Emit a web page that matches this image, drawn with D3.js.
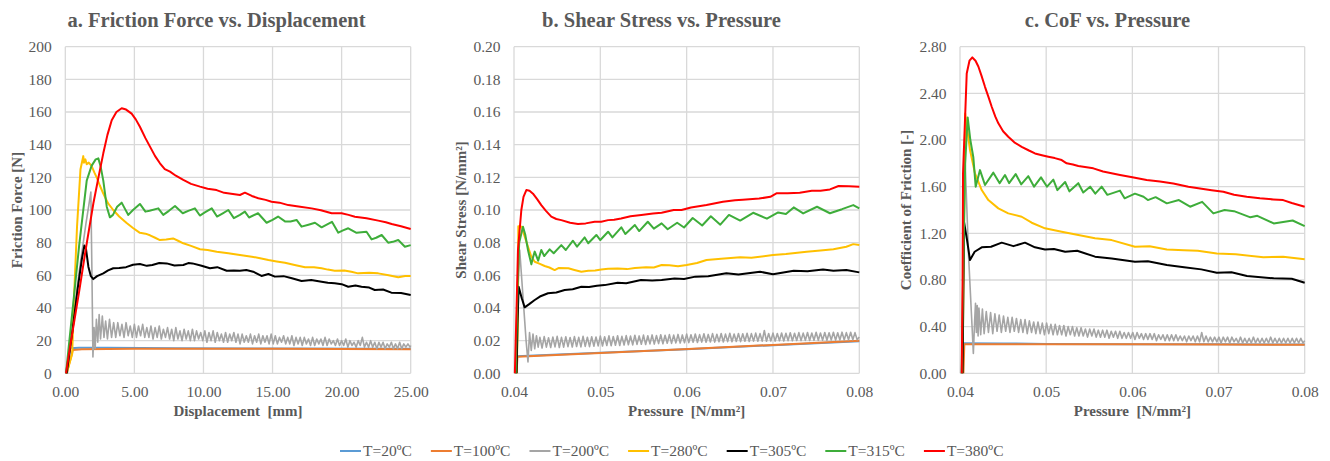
<!DOCTYPE html>
<html><head><meta charset="utf-8">
<script src="https://cdn.jsdelivr.net/npm/d3@7"></script>
<style>body{margin:0;background:#fff}svg{display:block}</style>
</head><body><svg id="c" width="1330" height="461"></svg>
<script>
// ---------------- DATA ----------------
const seriesNames = ["T=20ºC","T=100ºC","T=200ºC","T=280ºC","T=305ºC","T=315ºC","T=380ºC"];
const chartTitles = ["a. Friction Force vs. Displacement","b. Shear Stress vs. Pressure","c. CoF vs. Pressure"];
const xAxisTitles = ["Displacement  [mm]","Pressure  [N/mm²]","Pressure  [N/mm²]"];
const yAxisTitles = ["Friction Force [N]","Shear Stress [N/mm²]","Coefficient of Friction [-]"];
const xTicksA = [0,5,10,15,20,25];
const yTicksA = [0,20,40,60,80,100,120,140,160,180,200];
const xTicksP = [0.04,0.05,0.06,0.07,0.08];
const yTicksB = [0,0.02,0.04,0.06,0.08,0.10,0.12,0.14,0.16,0.18,0.20];
const yTicksC = [0,0.4,0.8,1.2,1.6,2.0,2.4,2.8];

// Chart a: [displacement mm, friction force N]
const blueA = [[0.05,0],[0.35,15.3],[1,15.6],[3,15.6],[8,15.4],[15,15.2],[25,15.0]];
const orangeA = [[0.1,0],[0.55,14.3],[1.2,14.8],[5,15.1],[15,15],[25,14.8]];
const greyA = [[0.15,0],[0.6,35],[1.0,62],[1.5,92],[1.85,111],[1.93,60],[2.0,10],[2.08,28],[2.16,15],[2.25,33],[2.35,19],[2.45,36],[2.55,21],[2.68,35],[2.8,22],[2.92,32],[3.05,21],[3.2,33],[3.35,22],[3.5,31],[3.65,22],[3.8,31],[3.95,23],[4.1,30],[4.25,22],[4.4,31],[4.55,23],[4.7,29],[4.85,22],[5.0,30],[5.15,22],[5.3,29],[5.45,23],[5.6,30],[5.75,22],[5.9,28],[6.05,22],[6.2,29],[6.35,21],[6.5,28],[6.65,22],[6.8,29],[6.95,21],[7.1,27],[7.25,22],[7.4,28],[7.55,21],[7.7,27],[7.85,20],[8.0,28],[8.15,21],[8.3,26],[8.45,20],[8.6,27],[8.75,21],[8.9,26],[9.05,20],[9.2,27],[9.35,20],[9.5,26],[9.65,21],[9.8,25],[9.95,20],[10.1,26],[10.25,19],[10.4,25],[10.55,20],[10.7,26],[10.85,19],[11.0,25],[11.15,20],[11.3,24],[11.45,19],[11.6,25],[11.75,19],[11.9,24],[12.05,20],[12.2,25],[12.35,19],[12.5,24],[12.65,18],[12.8,24],[12.95,19],[13.1,23],[13.25,19],[13.4,24],[13.55,18],[13.7,23],[13.85,19],[14.0,24],[14.15,18],[14.3,23],[14.45,19],[14.6,23],[14.75,18],[14.9,24],[15.05,18],[15.2,23],[15.35,18],[15.5,22],[15.65,19],[15.8,23],[15.95,18],[16.1,22],[16.25,18],[16.4,23],[16.55,17],[16.7,22],[16.85,18],[17.0,22],[17.15,17],[17.3,22],[17.45,18],[17.6,21],[17.75,17],[17.9,22],[18.05,17],[18.2,21],[18.35,18],[18.5,21],[18.65,17],[18.8,22],[18.95,17],[19.1,21],[19.25,18],[19.4,20],[19.55,17],[19.7,21],[19.85,17],[20.0,20],[20.15,17],[20.3,21],[20.45,16],[20.6,20],[20.75,17],[20.9,19],[21.05,16],[21.2,20],[21.35,17],[21.5,22],[21.65,16],[21.8,19],[21.95,16],[22.1,20],[22.25,16],[22.4,19],[22.55,15],[22.7,19],[22.85,16],[23.0,19],[23.15,15],[23.3,18],[23.45,16],[23.6,19],[23.75,15],[23.9,18],[24.05,15],[24.2,19],[24.35,15],[24.5,18],[24.65,16],[24.8,18],[24.95,16],[25,17]];
const yellowA = [[0.1,0],[0.3,6],[0.5,12],[0.6,40],[0.85,90],[1.1,125],[1.3,133],[1.35,129],[1.45,131],[1.55,128],[1.7,129],[1.9,127],[2.1,123],[2.27,120],[2.5,115],[2.75,110],[3.1,104],[3.47,100],[3.9,96],[4.44,92],[4.9,89],[5.4,86],[5.8,85.5],[6.13,84.5],[6.5,83],[6.85,81.6],[7.3,82],[7.8,82.6],[8.2,81],[8.54,79.6],[9.1,78],[9.75,76],[10.3,75.5],[10.96,74.5],[11.8,73.5],[12.64,72.4],[13.5,71.4],[14.1,70.5],[14.7,69.4],[15.3,68.5],[15.9,67.7],[16.6,66.3],[17.35,64.9],[18,65],[18.55,64.3],[19,63.5],[19.5,62.8],[20.2,63],[20.7,62.2],[21.2,61.2],[22,61.5],[22.65,61.2],[23.4,60],[24.1,58.8],[24.6,59.6],[25,59.6]];
const blackA = [[0.1,0],[0.5,25],[0.9,52],[1.2,70],[1.38,78.2],[1.5,76],[1.67,65.3],[1.85,59.5],[2.03,57.7],[2.3,59.5],[2.75,61.2],[3.1,63],[3.47,64.3],[3.9,64.5],[4.4,65],[4.9,66.5],[5.4,66.9],[5.9,65.8],[6.3,66.3],[6.8,67.5],[7.34,67.3],[7.9,66],[8.54,66.3],[8.9,67.5],[9.2,67.3],[9.8,66],[10.47,64.3],[11,65],[11.68,62.8],[12.2,63],[12.64,62.8],[13.1,63.2],[13.6,62.2],[14.2,59.6],[14.7,60.8],[15.17,59.2],[15.8,59.5],[16.4,58.2],[17.1,56.5],[17.8,57.2],[18.55,56.1],[19,55.5],[19.5,55.1],[20,54.6],[20.48,53],[21,53.8],[21.44,53],[22,52.5],[22.4,51],[23,51.3],[23.6,49.4],[24.3,49.2],[25,48]];
const greenA = [[0.05,0],[0.6,45],[1.0,78],[1.55,118],[1.9,127],[2.2,131],[2.39,131.6],[2.55,127],[2.75,118],[3.0,102],[3.23,95.5],[3.45,97],[3.75,102],[4.08,104.5],[4.3,101],[4.56,97],[4.9,100],[5.4,103.7],[5.8,99],[6.1,99.5],[6.73,101],[7.09,97],[7.5,99.5],[7.94,102.4],[8.5,98],[8.9,99.5],[9.38,101],[9.74,96.6],[10.1,98.5],[10.6,101],[10.98,96],[11.4,98],[11.8,100],[12.2,95],[12.64,97],[13.0,99],[13.3,95.4],[13.95,98],[14.57,92.2],[15.0,94],[15.4,96],[15.9,93],[16.3,93],[16.74,93.9],[17.1,89.8],[17.6,91],[18.07,92.2],[18.55,89.4],[19.3,92.8],[19.76,86.1],[20.1,87.5],[20.48,88.8],[21.08,86],[21.8,86.7],[22.17,82],[22.5,83],[22.9,84.7],[23.37,80],[23.7,80.5],[24.1,81.6],[24.58,77.5],[25,78.5]];
const redA = [[0.05,0],[0.34,16],[1.0,50],[1.5,77],[2.03,104],[2.4,120],[2.75,134.7],[3.05,146],[3.36,155],[3.7,160],[4.08,162.3],[4.4,161.5],[4.8,159],[5.1,155.5],[5.4,151],[5.8,144],[6.13,138.8],[6.5,133],[6.85,128.6],[7.2,125],[7.58,123.5],[8.0,121],[8.54,118.4],[9.1,116],[9.75,114.3],[10.3,113],[10.95,112.2],[11.5,110.5],[12.0,110],[12.64,109.2],[13.0,110.6],[13.5,108.6],[13.97,107.2],[14.5,106.2],[14.93,105.1],[15.5,104.5],[16.14,103],[17,102],[17.83,101],[18.5,99.8],[19.28,98],[20.0,98],[20.5,97],[20.96,95.9],[21.8,95],[22.65,93.5],[23.2,92.5],[23.62,91.4],[24.3,90],[25,88.4]];

// Chart b: [pressure N/mm², shear stress N/mm²]
const blueB = [[0.0402,0],[0.0403,0.0104],[0.05,0.0126],[0.06,0.0148],[0.07,0.0172],[0.08,0.0196]];
const orangeB = [[0.0403,0],[0.0404,0.0102],[0.05,0.0124],[0.0602,0.0149],[0.07,0.0174],[0.08,0.0199]];
const greyB = [[0.0402,0],[0.0404,0.045],[0.04066,0.0755],[0.041,0.05],[0.0414,0.02],[0.04162,0.007],[0.0418,0.025],[0.042,0.014],[0.0422,0.024],[0.0424,0.015],[0.0426,0.023],[0.0428,0.016],[0.043,0.022],[0.04325,0.0155],[0.0435,0.0225],[0.04375,0.016],[0.044,0.0218],[0.04425,0.0158],[0.0445,0.0222],[0.04475,0.0162],[0.045,0.0226],[0.04525,0.0158],[0.0455,0.022],[0.04575,0.016],[0.046,0.0224],[0.04625,0.0163],[0.0465,0.0219],[0.04675,0.0161],[0.047,0.0225],[0.04725,0.0164],[0.0475,0.022],[0.04775,0.0162],[0.048,0.0226],[0.04825,0.0165],[0.0485,0.0221],[0.04875,0.0163],[0.049,0.0224],[0.04925,0.0166],[0.0495,0.0222],[0.04975,0.0168],[0.05,0.0228],[0.05025,0.0167],[0.0505,0.0224],[0.05075,0.017],[0.051,0.0229],[0.05125,0.0169],[0.0515,0.0225],[0.05175,0.0172],[0.052,0.023],[0.05225,0.017],[0.0525,0.0226],[0.05275,0.0173],[0.053,0.0231],[0.05325,0.0175],[0.0535,0.0228],[0.05375,0.0174],[0.054,0.0233],[0.05425,0.0177],[0.0545,0.0229],[0.05475,0.0178],[0.055,0.0234],[0.05525,0.0176],[0.0555,0.023],[0.05575,0.018],[0.056,0.0235],[0.05625,0.0179],[0.0565,0.0231],[0.05675,0.0182],[0.057,0.0236],[0.05725,0.0181],[0.0575,0.0233],[0.05775,0.0184],[0.058,0.0237],[0.05825,0.0183],[0.0585,0.0234],[0.05875,0.0186],[0.059,0.0238],[0.05925,0.0185],[0.0595,0.0235],[0.05975,0.0187],[0.06,0.024],[0.06025,0.0188],[0.0605,0.0236],[0.06075,0.019],[0.061,0.0241],[0.06125,0.0189],[0.0615,0.0237],[0.06175,0.0191],[0.062,0.0242],[0.06225,0.019],[0.0625,0.0238],[0.06275,0.0192],[0.063,0.0243],[0.06325,0.0191],[0.0635,0.0239],[0.06375,0.0193],[0.064,0.0244],[0.06425,0.0192],[0.0645,0.024],[0.06475,0.0194],[0.065,0.0245],[0.06525,0.0193],[0.0655,0.0241],[0.06575,0.0195],[0.066,0.0244],[0.06625,0.0194],[0.0665,0.0242],[0.06675,0.0196],[0.067,0.0245],[0.06725,0.0195],[0.0675,0.0243],[0.06775,0.0197],[0.068,0.0246],[0.06825,0.0196],[0.0685,0.0243],[0.06875,0.0197],[0.069,0.0262],[0.06925,0.0196],[0.0695,0.0244],[0.06975,0.0198],[0.07,0.0246],[0.07025,0.0197],[0.0705,0.0244],[0.07075,0.0199],[0.071,0.0247],[0.07125,0.0198],[0.0715,0.0245],[0.07175,0.02],[0.072,0.0248],[0.07225,0.0199],[0.0725,0.0245],[0.07275,0.0201],[0.073,0.0249],[0.07325,0.02],[0.0735,0.0246],[0.07375,0.0202],[0.074,0.025],[0.07425,0.0201],[0.0745,0.0247],[0.07475,0.0202],[0.075,0.0251],[0.07525,0.0202],[0.0755,0.0247],[0.07575,0.0203],[0.076,0.025],[0.07625,0.0202],[0.0765,0.0248],[0.07675,0.0204],[0.077,0.0251],[0.07725,0.0203],[0.0775,0.0248],[0.07775,0.0204],[0.078,0.0252],[0.07825,0.0204],[0.0785,0.0249],[0.07875,0.0205],[0.079,0.0251],[0.07925,0.0205],[0.0795,0.0249],[0.07975,0.0206],[0.08,0.0222]];
const yellowB = [[0.0403,0],[0.04045,0.03],[0.0405,0.09],[0.0409,0.0898],[0.04116,0.085],[0.04162,0.0775],[0.042,0.0715],[0.0424,0.0683],[0.043,0.067],[0.04355,0.0657],[0.0441,0.0648],[0.04471,0.0632],[0.0452,0.0645],[0.0463,0.0643],[0.047,0.0633],[0.0478,0.0622],[0.0486,0.0628],[0.0494,0.063],[0.0501,0.0636],[0.0509,0.064],[0.052,0.0642],[0.0531,0.0638],[0.054,0.0645],[0.0553,0.065],[0.0562,0.0648],[0.0571,0.0663],[0.058,0.0662],[0.059,0.0655],[0.06,0.0663],[0.0612,0.0675],[0.0623,0.0694],[0.064,0.0702],[0.0662,0.071],[0.0675,0.0708],[0.07,0.0724],[0.0715,0.073],[0.0739,0.0745],[0.0755,0.0752],[0.077,0.0759],[0.0785,0.0775],[0.0793,0.0791],[0.08,0.0785]];
const blackB = [[0.0403,0],[0.0404,0.03],[0.04054,0.053],[0.0409,0.046],[0.04124,0.0404],[0.0418,0.0425],[0.0424,0.0449],[0.043,0.047],[0.04394,0.049],[0.0449,0.0495],[0.04587,0.051],[0.0468,0.0515],[0.0478,0.053],[0.0487,0.0528],[0.0496,0.0536],[0.0505,0.054],[0.052,0.0555],[0.053,0.0552],[0.0547,0.0571],[0.056,0.0568],[0.0571,0.0571],[0.0586,0.0581],[0.0597,0.0578],[0.061,0.0592],[0.0625,0.0595],[0.0646,0.0612],[0.066,0.0605],[0.0685,0.0622],[0.07,0.0606],[0.0724,0.0628],[0.074,0.0625],[0.0758,0.0635],[0.077,0.0628],[0.0785,0.0632],[0.08,0.0618]];
const greenB = [[0.0402,0],[0.0404,0.05],[0.0406,0.08],[0.04104,0.0898],[0.0413,0.085],[0.04162,0.0755],[0.04201,0.0667],[0.0422,0.071],[0.0424,0.0745],[0.0428,0.069],[0.04316,0.0755],[0.0435,0.0718],[0.04413,0.0759],[0.0446,0.0735],[0.04548,0.0785],[0.046,0.0755],[0.04683,0.0812],[0.0473,0.0776],[0.04819,0.0832],[0.0486,0.0796],[0.04954,0.0847],[0.05,0.0816],[0.0509,0.0867],[0.0514,0.0832],[0.05243,0.0894],[0.0529,0.0853],[0.054,0.0908],[0.0545,0.0871],[0.0555,0.0928],[0.0562,0.0886],[0.0571,0.0918],[0.0578,0.0882],[0.0589,0.0922],[0.0597,0.0893],[0.0607,0.0951],[0.0618,0.0905],[0.0628,0.0962],[0.0639,0.091],[0.0649,0.097],[0.0662,0.0935],[0.0677,0.0983],[0.0693,0.0947],[0.0706,0.0985],[0.0715,0.0975],[0.0724,0.1016],[0.0735,0.0979],[0.0751,0.102],[0.0766,0.098],[0.078,0.1005],[0.0793,0.103],[0.08,0.101]];
const redB = [[0.0401,0],[0.0403,0.04],[0.04046,0.0755],[0.04085,0.1],[0.0411,0.108],[0.04143,0.1122],[0.0418,0.1118],[0.0422,0.11],[0.0427,0.1065],[0.04316,0.103],[0.0437,0.0995],[0.04432,0.0959],[0.0449,0.0945],[0.04548,0.0938],[0.0465,0.0922],[0.04741,0.0914],[0.0483,0.0918],[0.04934,0.0928],[0.0501,0.0928],[0.0509,0.0938],[0.0516,0.094],[0.0524,0.0948],[0.0535,0.0962],[0.05475,0.0969],[0.0561,0.0978],[0.0571,0.0983],[0.0585,0.1],[0.0594,0.1],[0.0605,0.1015],[0.0623,0.103],[0.0642,0.105],[0.0656,0.106],[0.0665,0.1063],[0.0684,0.107],[0.0697,0.1081],[0.0704,0.1102],[0.0717,0.1102],[0.0731,0.1106],[0.0745,0.1118],[0.0755,0.1118],[0.0766,0.1126],[0.0776,0.1147],[0.0788,0.1145],[0.08,0.1143]];

// Chart c: [pressure N/mm², coefficient of friction]
const blueC = [[0.0402,0],[0.0403,0.258],[0.045,0.256],[0.05,0.252],[0.06,0.25],[0.07,0.248],[0.08,0.246]];
const orangeC = [[0.0404,0],[0.0405,0.248],[0.05,0.25],[0.06,0.249],[0.07,0.247],[0.08,0.245]];
const greyC = [[0.0402,0],[0.0404,0.9],[0.04058,1.843],[0.041,1.0],[0.0414,0.4],[0.04155,0.171],[0.0417,0.45],[0.0418,0.6],[0.0419,0.35],[0.042,0.58],[0.0421,0.32],[0.0422,0.56],[0.0424,0.33],[0.0426,0.55],[0.0428,0.34],[0.04305,0.53],[0.0433,0.35],[0.04355,0.52],[0.0438,0.34],[0.04405,0.51],[0.0443,0.36],[0.04455,0.5],[0.0448,0.35],[0.04505,0.49],[0.0453,0.36],[0.04555,0.48],[0.0458,0.35],[0.04605,0.48],[0.0463,0.36],[0.04655,0.47],[0.0468,0.35],[0.04705,0.46],[0.0473,0.35],[0.04755,0.46],[0.0478,0.34],[0.04805,0.45],[0.0483,0.35],[0.04855,0.44],[0.0488,0.34],[0.04905,0.44],[0.0493,0.34],[0.04955,0.43],[0.0498,0.33],[0.05005,0.43],[0.0503,0.34],[0.05055,0.42],[0.0508,0.33],[0.05105,0.42],[0.0513,0.33],[0.05155,0.41],[0.0518,0.33],[0.05205,0.41],[0.0523,0.32],[0.05255,0.4],[0.0528,0.33],[0.05305,0.4],[0.0533,0.32],[0.05355,0.39],[0.0538,0.32],[0.05405,0.39],[0.0543,0.32],[0.05455,0.38],[0.0548,0.31],[0.05505,0.38],[0.0553,0.32],[0.05555,0.38],[0.0558,0.31],[0.05605,0.37],[0.0563,0.31],[0.05655,0.37],[0.0568,0.31],[0.05705,0.37],[0.0573,0.3],[0.05755,0.36],[0.0578,0.31],[0.05805,0.36],[0.0583,0.3],[0.05855,0.36],[0.0588,0.3],[0.05905,0.35],[0.0593,0.3],[0.05955,0.35],[0.0598,0.3],[0.06005,0.35],[0.0603,0.29],[0.06055,0.35],[0.0608,0.3],[0.06105,0.34],[0.0613,0.29],[0.06155,0.34],[0.0618,0.29],[0.06205,0.34],[0.0623,0.29],[0.06255,0.34],[0.0628,0.28],[0.06305,0.33],[0.0633,0.29],[0.06355,0.33],[0.0638,0.28],[0.06405,0.33],[0.0643,0.28],[0.06455,0.33],[0.0648,0.28],[0.06505,0.33],[0.0653,0.28],[0.06555,0.32],[0.0658,0.28],[0.06605,0.32],[0.0663,0.27],[0.06655,0.32],[0.0668,0.28],[0.06705,0.32],[0.0673,0.27],[0.06755,0.32],[0.0678,0.27],[0.06805,0.35],[0.0683,0.27],[0.06855,0.32],[0.0688,0.27],[0.06905,0.31],[0.0693,0.27],[0.06955,0.31],[0.0698,0.27],[0.07005,0.31],[0.0703,0.26],[0.07055,0.31],[0.0708,0.27],[0.07105,0.31],[0.0713,0.26],[0.07155,0.31],[0.0718,0.27],[0.07205,0.3],[0.0723,0.26],[0.07255,0.31],[0.0728,0.26],[0.07305,0.3],[0.0733,0.26],[0.07355,0.3],[0.0738,0.26],[0.07405,0.31],[0.0743,0.26],[0.07455,0.3],[0.0748,0.26],[0.07505,0.3],[0.0753,0.26],[0.07555,0.3],[0.0758,0.26],[0.07605,0.31],[0.0763,0.26],[0.07655,0.3],[0.0768,0.26],[0.07705,0.3],[0.0773,0.26],[0.07755,0.3],[0.0778,0.26],[0.07805,0.3],[0.0783,0.26],[0.07855,0.3],[0.0788,0.26],[0.07905,0.3],[0.0793,0.26],[0.07955,0.3],[0.0798,0.26],[0.08,0.28]];
const yellowC = [[0.0403,0],[0.0405,1.5],[0.0406,2.228],[0.04075,2.143],[0.04116,1.914],[0.04174,1.714],[0.04252,1.571],[0.04329,1.485],[0.04445,1.414],[0.0456,1.371],[0.04716,1.342],[0.04832,1.291],[0.04986,1.243],[0.0518,1.214],[0.05373,1.185],[0.05567,1.157],[0.0576,1.142],[0.0603,1.085],[0.062,1.09],[0.064,1.062],[0.066,1.055],[0.0676,1.05],[0.0698,1.028],[0.072,1.02],[0.0752,0.994],[0.0775,1.0],[0.08,0.977]];
const blackC = [[0.0403,0],[0.0404,0.8],[0.04046,1.3],[0.0408,1.15],[0.04116,0.971],[0.0417,1.042],[0.04252,1.08],[0.0436,1.085],[0.04484,1.12],[0.0462,1.09],[0.04754,1.12],[0.0487,1.08],[0.04986,1.062],[0.0509,1.065],[0.0522,1.042],[0.0536,1.05],[0.05567,1.0],[0.0576,0.985],[0.0603,0.957],[0.0618,0.96],[0.064,0.928],[0.066,0.91],[0.068,0.891],[0.0698,0.862],[0.0715,0.866],[0.0733,0.834],[0.0764,0.814],[0.0785,0.81],[0.08,0.777]];
const greenC = [[0.0402,0],[0.0404,1.0],[0.0406,1.8],[0.04089,2.194],[0.0412,2.0],[0.04155,1.85],[0.04182,1.6],[0.042,1.65],[0.04232,1.742],[0.0429,1.614],[0.04387,1.72],[0.0446,1.63],[0.04522,1.7],[0.0457,1.63],[0.04646,1.708],[0.0471,1.62],[0.04793,1.69],[0.0486,1.6],[0.0494,1.68],[0.0501,1.6],[0.05083,1.66],[0.0513,1.57],[0.0522,1.64],[0.0527,1.56],[0.05373,1.63],[0.0543,1.55],[0.0551,1.6],[0.0557,1.54],[0.05644,1.6],[0.0571,1.53],[0.05857,1.566],[0.0591,1.5],[0.0603,1.54],[0.0613,1.514],[0.0618,1.485],[0.0627,1.51],[0.064,1.457],[0.0654,1.485],[0.0667,1.428],[0.0681,1.47],[0.0694,1.371],[0.0707,1.4],[0.0718,1.39],[0.0737,1.337],[0.0745,1.35],[0.0764,1.285],[0.0786,1.31],[0.08,1.262]];
const redC = [[0.0402,0],[0.0403,0.8],[0.04035,1.71],[0.04078,2.57],[0.0411,2.68],[0.04143,2.708],[0.0418,2.68],[0.04213,2.63],[0.0425,2.55],[0.0429,2.456],[0.0433,2.37],[0.04368,2.285],[0.0441,2.2],[0.04445,2.143],[0.045,2.075],[0.0456,2.028],[0.0463,1.98],[0.04716,1.942],[0.048,1.91],[0.0487,1.885],[0.0495,1.87],[0.05025,1.857],[0.051,1.845],[0.0518,1.828],[0.05238,1.8],[0.0531,1.79],[0.05373,1.777],[0.05547,1.757],[0.0566,1.73],[0.05857,1.7],[0.06,1.68],[0.06166,1.657],[0.0632,1.645],[0.06475,1.628],[0.0665,1.6],[0.06785,1.585],[0.0692,1.57],[0.07056,1.556],[0.0718,1.53],[0.07327,1.514],[0.0748,1.5],[0.07636,1.491],[0.0775,1.485],[0.0785,1.46],[0.08,1.428]];

// ---------------- DRAW ----------------
const FONT = "'Liberation Serif','Times New Roman',serif";
const TXT = "#595959";
const GRID = "#D9D9D9";
const colors = ["#5B9BD5","#ED7D31","#A5A5A5","#FFC000","#000000","#3EAD3A","#FF0000"];
const widths = [2,2,1.6,2,2,2,2];
const svg = d3.select("#c");
svg.append("rect").attr("width",1330).attr("height",461).attr("fill","#fff");

const plotTop = 46.7, plotBottom = 373.3;
const panels = [
  {data:[blueA,orangeA,greyA,yellowA,blackA,greenA,redA], xd:[0,25], yd:[0,200], xt:xTicksA, yt:yTicksA,
   xf:d3.format(".2f"), yf:d3.format("d"), l:65.3, r:410.7, titleX:216.5, yTitleX:22},
  {data:[blueB,orangeB,greyB,yellowB,blackB,greenB,redB], xd:[0.04,0.08], yd:[0,0.2], xt:xTicksP, yt:yTicksB,
   xf:d3.format(".2f"), yf:d3.format(".2f"), l:514, r:859.3, titleX:661.5, yTitleX:466},
  {data:[blueC,orangeC,greyC,yellowC,blackC,greenC,redC], xd:[0.04,0.08], yd:[0,2.8], xt:xTicksP, yt:yTicksC,
   xf:d3.format(".2f"), yf:d3.format(".2f"), l:960, r:1304.7, titleX:1107.5, yTitleX:911}
];

panels.forEach((p,i)=>{
  const x = d3.scaleLinear().domain(p.xd).range([p.l,p.r]);
  const y = d3.scaleLinear().domain(p.yd).range([plotBottom,plotTop]);
  const g = svg.append("g");
  g.selectAll(".hg").data(p.yt).join("line")
    .attr("x1",p.l).attr("x2",p.r).attr("y1",d=>y(d)).attr("y2",d=>y(d))
    .attr("stroke",GRID).attr("stroke-width",1.3);
  g.selectAll(".vg").data(p.xt).join("line")
    .attr("y1",plotTop).attr("y2",plotBottom).attr("x1",d=>x(d)).attr("x2",d=>x(d))
    .attr("stroke",GRID).attr("stroke-width",1.3);
  const ya = g.append("g").attr("transform",`translate(${p.l-4},0)`)
    .call(d3.axisLeft(y).tickValues(p.yt).tickFormat(p.yf).tickSize(0).tickPadding(9.5));
  ya.select(".domain").remove();
  ya.selectAll("text").attr("font-family",FONT).attr("font-size",15.5).attr("fill",TXT);
  const xa = g.append("g").attr("transform",`translate(0,${plotBottom+4})`)
    .call(d3.axisBottom(x).tickValues(p.xt).tickFormat(p.xf).tickSize(0).tickPadding(9));
  xa.select(".domain").remove();
  xa.selectAll("text").attr("font-family",FONT).attr("font-size",15.5).attr("fill",TXT);
  const line = d3.line().x(d=>x(d[0])).y(d=>y(d[1]));
  p.data.forEach((s,k)=>{
    g.append("path").datum(s).attr("d",line).attr("fill","none")
      .attr("stroke",colors[k]).attr("stroke-width",widths[k]).attr("stroke-linejoin","round");
  });
  svg.append("text").attr("x",p.titleX).attr("y",27).attr("text-anchor","middle")
    .attr("font-family",FONT).attr("font-weight","bold").attr("font-size",20.5).attr("fill",TXT)
    .text(chartTitles[i]);
  svg.append("text").attr("x",(p.l+p.r)/2).attr("y",416).attr("text-anchor","middle")
    .attr("font-family",FONT).attr("font-weight","bold").attr("font-size",15).attr("fill",TXT)
    .style("white-space","pre")
    .text(xAxisTitles[i]);
  svg.append("text").attr("transform",`translate(${p.yTitleX},${(plotTop+plotBottom)/2}) rotate(-90)`)
    .attr("text-anchor","middle")
    .attr("font-family",FONT).attr("font-weight","bold").attr("font-size",15).attr("fill",TXT)
    .text(yAxisTitles[i]);
});

const lg = svg.append("g");
let lx = 340;
seriesNames.forEach((n,k)=>{
  lg.append("line").attr("x1",lx).attr("x2",lx+21).attr("y1",451).attr("y2",451)
    .attr("stroke",colors[k]).attr("stroke-width",2);
  const t = lg.append("text").attr("x",lx+23).attr("y",456)
    .attr("font-family",FONT).attr("font-size",15.5).attr("fill",TXT).text(n);
  lx += 23 + t.node().getComputedTextLength() + 19;
});
</script></body></html>
